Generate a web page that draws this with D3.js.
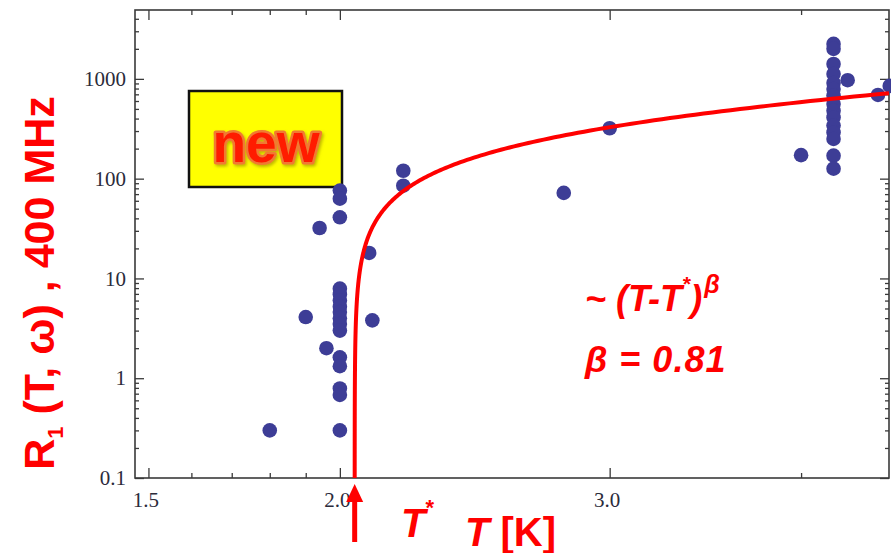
<!DOCTYPE html>
<html>
<head>
<meta charset="utf-8">
<script src="https://cdn.jsdelivr.net/npm/d3@7"></script>
<style>
  html, body { margin: 0; padding: 0; background: #ffffff; }
  svg { display: block; }
</style>
</head>
<body>
<svg id="chart" width="891" height="553"></svg>
<script>
// Measured spin-lattice relaxation rate R1 at 400 MHz versus temperature
const temperatureK = [
  1.80, 1.90, 1.94, 1.96,
  2.0, 2.0, 2.0,
  2.0, 2.0, 2.0, 2.0, 2.0, 2.0, 2.0, 2.0,
  2.0, 2.0, 2.0, 2.0, 2.0,
  2.09, 2.10, 2.20, 2.20, 2.80, 3.00, 4.00,
  4.2, 4.2, 4.2, 4.2, 4.2, 4.2, 4.2, 4.2, 4.2, 4.2, 4.2, 4.2, 4.2, 4.2, 4.2,
  4.29, 4.49, 4.57
];
const rateR1 = [
  0.30, 4.1, 32, 2.0,
  76, 63, 41,
  7.9, 6.9, 6.0, 5.2, 4.6, 4.0, 3.5, 3.0,
  1.62, 1.32, 0.79, 0.68, 0.30,
  18, 3.8, 120, 85, 72, 320, 172,
  2240, 2000, 1410, 1120, 910, 790, 680, 560, 480, 410, 340, 290, 250, 170, 126,
  970, 690, 850
];

// Axis ticks
const xMajorTicks = [1.5, 2.0, 3.0];
const xMinorTicks = [1.6, 1.7, 1.8, 1.9, 4.0];
const yMajorTicks = [0.1, 1, 10, 100, 1000];
const yMinorMultipliers = [2, 3, 4, 5, 6, 7, 8, 9];

// Power-law fit  R1 ~ A (T - T*)^beta
const fitTStar = 2.045;
const fitBeta = 0.81;
const fitAmplitude = 340;

const svg = d3.select("#chart");
const plotLeft = 135, plotRight = 889, plotTop = 10, plotBottom = 478;

const x = d3.scaleLog().domain([1.47, 4.565]).range([plotLeft, plotRight]);
const y = d3.scaleLog().domain([0.1, 4900]).range([plotBottom, plotTop]);

const yMinorTicks = [];
yMajorTicks.forEach(base => yMinorMultipliers.forEach(m => {
  const v = base * m;
  if (v <= y.domain()[1]) yMinorTicks.push(v);
}));

const frameColor = "#3a3a3a";
const labelColor = "#2b2b3a";

const defs = svg.append("defs");
// Clip region for the plot
defs.append("clipPath").attr("id", "plotClip")
  .append("rect").attr("x", plotLeft).attr("y", plotTop)
  .attr("width", plotRight - plotLeft).attr("height", plotBottom - plotTop);

// Axes with inward ticks on all four sides
function styleAxis(g) {
  g.select(".domain").remove();
  g.selectAll(".tick line").attr("stroke", frameColor).attr("stroke-width", 1.3);
  g.selectAll(".tick text")
    .attr("fill", labelColor)
    .style("font-family", "'Liberation Serif', 'Times New Roman', serif")
    .style("font-size", "21px");
}

svg.append("g").attr("transform", `translate(0,${plotBottom})`)
  .call(d3.axisBottom(x).tickValues(xMajorTicks).tickSize(-10).tickPadding(14)
        .tickFormat(d3.format(".1f")))
  .call(styleAxis)
  .call(g => g.selectAll(".tick text").attr("x", -3));
svg.append("g").attr("transform", `translate(0,${plotBottom})`)
  .call(d3.axisBottom(x).tickValues(xMinorTicks).tickSize(-5).tickFormat(""))
  .call(styleAxis);
svg.append("g").attr("transform", `translate(0,${plotTop})`)
  .call(d3.axisTop(x).tickValues(xMajorTicks).tickSize(-10).tickFormat(""))
  .call(styleAxis);
svg.append("g").attr("transform", `translate(0,${plotTop})`)
  .call(d3.axisTop(x).tickValues(xMinorTicks).tickSize(-5).tickFormat(""))
  .call(styleAxis);

svg.append("g").attr("transform", `translate(${plotLeft},0)`)
  .call(d3.axisLeft(y).tickValues(yMajorTicks).tickSize(-9).tickPadding(9)
        .tickFormat(d3.format("~g")))
  .call(styleAxis);
svg.append("g").attr("transform", `translate(${plotLeft},0)`)
  .call(d3.axisLeft(y).tickValues(yMinorTicks).tickSize(-4).tickFormat(""))
  .call(styleAxis);
svg.append("g").attr("transform", `translate(${plotRight},0)`)
  .call(d3.axisRight(y).tickValues(yMajorTicks).tickSize(-9).tickFormat(""))
  .call(styleAxis);
svg.append("g").attr("transform", `translate(${plotRight},0)`)
  .call(d3.axisRight(y).tickValues(yMinorTicks).tickSize(-4).tickFormat(""))
  .call(styleAxis);

// Frame
svg.append("rect")
  .attr("x", plotLeft).attr("y", plotTop)
  .attr("width", plotRight - plotLeft).attr("height", plotBottom - plotTop)
  .attr("fill", "none").attr("stroke", frameColor).attr("stroke-width", 1.6);

// "new" badge
const badge = svg.append("g");
badge.append("rect")
  .attr("x", 189).attr("y", 91).attr("width", 153).attr("height", 96)
  .attr("fill", "#ffff00").attr("stroke", "#111").attr("stroke-width", 2.5);
const glow = defs.append("filter").attr("id", "badgeGlow")
  .attr("x", "-20%").attr("y", "-20%").attr("width", "140%").attr("height", "140%");
glow.append("feDropShadow").attr("dx", 1.5).attr("dy", 2).attr("stdDeviation", 1.5)
  .attr("flood-color", "#8a7a00").attr("flood-opacity", 0.55);
badge.append("text")
  .attr("x", 266).attr("y", 162)
  .attr("text-anchor", "middle")
  .attr("filter", "url(#badgeGlow)")
  .style("font-family", "'Liberation Sans', Arial, sans-serif")
  .style("font-weight", "bold")
  .style("font-size", "55px")
  .style("paint-order", "stroke")
  .attr("fill", "#ff1a00").attr("stroke", "#f07a30").attr("stroke-width", 5)
  .attr("stroke-linejoin", "round")
  .text("new");

// Data points
svg.append("g").selectAll("circle")
  .data(temperatureK.map((t, i) => ({ t, r: rateR1[i] })))
  .join("circle")
  .attr("cx", d => x(d.t))
  .attr("cy", d => y(d.r))
  .attr("r", 7.3)
  .attr("fill", "#3d3d96");

// Fit curve, sampled densely near T*
const logDMin = -5.2, logDMax = Math.log10(x.domain()[1] - fitTStar);
const fitPoints = d3.range(0, 401).map(i => {
  const d = Math.pow(10, logDMin + (logDMax - logDMin) * i / 400);
  return { t: fitTStar + d, r: fitAmplitude * Math.pow(d, fitBeta) };
});
svg.append("path")
  .datum(fitPoints)
  .attr("clip-path", "url(#plotClip)")
  .attr("fill", "none")
  .attr("stroke", "#ff0000")
  .attr("stroke-width", 4)
  .attr("d", d3.line().x(d => x(d.t)).y(d => y(d.r)));

// Arrow marking T*
const xStar = x(fitTStar);
svg.append("line")
  .attr("x1", xStar).attr("x2", xStar).attr("y1", 542).attr("y2", 498)
  .attr("stroke", "#ff0000").attr("stroke-width", 5);
svg.append("path")
  .attr("d", `M${xStar},484 L${xStar - 8.5},502 L${xStar + 8.5},502 Z`)
  .attr("fill", "#ff0000");

const sans = "'Liberation Sans', Arial, sans-serif";

// T* label
const tStarLabel = svg.append("text")
  .attr("x", 401).attr("y", 537)
  .attr("fill", "#ff0000")
  .style("font-family", sans).style("font-weight", "bold").style("font-size", "40px");
tStarLabel.append("tspan").style("font-style", "italic").text("T");
tStarLabel.append("tspan").attr("dy", -22).style("font-size", "22px").text("*");

// x-axis title
const xTitle = svg.append("text")
  .attr("x", 465).attr("y", 546)
  .attr("fill", "#ff0000")
  .style("font-family", sans).style("font-weight", "bold").style("font-size", "40px");
xTitle.append("tspan").style("font-style", "italic").text("T");
xTitle.append("tspan").text(" [K]");

// y-axis title
const yTitle = svg.append("text")
  .attr("transform", "translate(54,283) rotate(-90)")
  .attr("text-anchor", "middle")
  .attr("fill", "#ff0000")
  .style("font-family", sans).style("font-weight", "bold").style("font-size", "43px");
yTitle.append("tspan").text("R");
yTitle.append("tspan").attr("dy", 9).style("font-size", "22px").text("1");
yTitle.append("tspan").attr("dy", -9).text(" (T, ω) , 400 MHz");

// Fit annotation
const fitLabel = svg.append("text")
  .attr("x", 585).attr("y", 311)
  .attr("fill", "#ff0000")
  .style("font-family", sans).style("font-weight", "bold")
  .style("font-style", "italic").style("font-size", "36px");
fitLabel.append("tspan").text("~ (T-T");
fitLabel.append("tspan").attr("dy", -20).style("font-size", "21px").text("*");
fitLabel.append("tspan").attr("dy", 20).text(")");
fitLabel.append("tspan").attr("dx", 2).attr("dy", -18).style("font-size", "25px").text("β");

svg.append("text")
  .attr("x", 585).attr("y", 372)
  .attr("fill", "#ff0000")
  .style("font-family", sans).style("font-weight", "bold")
  .style("font-style", "italic").style("font-size", "36px")
  .style("letter-spacing", "1px")
  .text("β = " + fitBeta.toFixed(2));
</script>
</body>
</html>
